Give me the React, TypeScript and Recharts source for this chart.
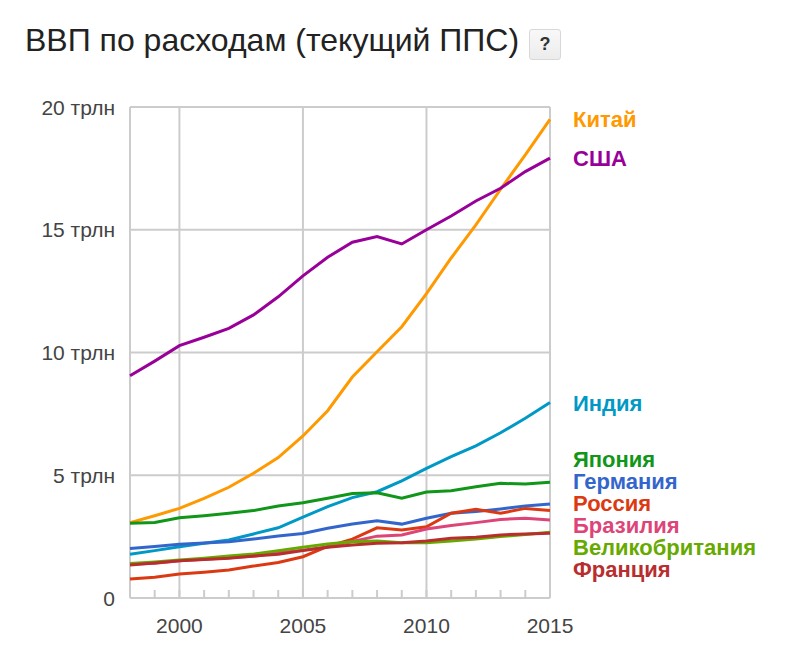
import React from 'react';
import { LineChart, Line, XAxis, YAxis, CartesianGrid, ReferenceLine, LabelList } from 'recharts';

const years = [1998, 1999, 2000, 2001, 2002, 2003, 2004, 2005, 2006, 2007, 2008, 2009, 2010, 2011, 2012, 2013, 2014, 2015];
const gridYears = [1998, 2000, 2005, 2010, 2015];
const yTicks = [0, 5, 10, 15, 20];

const china = [3.07, 3.35, 3.65, 4.06, 4.51, 5.08, 5.72, 6.6, 7.63, 9.0, 10.03, 11.05, 12.4, 13.85, 15.2, 16.65, 18.05, 19.5];
const usa = [9.05, 9.65, 10.28, 10.62, 10.98, 11.53, 12.27, 13.12, 13.88, 14.49, 14.72, 14.42, 15.0, 15.56, 16.17, 16.69, 17.37, 17.92];
const india = [1.78, 1.93, 2.09, 2.23, 2.36, 2.61, 2.86, 3.29, 3.72, 4.09, 4.33, 4.77, 5.28, 5.76, 6.2, 6.73, 7.32, 7.96];
const japan = [3.04, 3.08, 3.27, 3.35, 3.45, 3.56, 3.75, 3.88, 4.06, 4.26, 4.29, 4.06, 4.32, 4.37, 4.53, 4.67, 4.64, 4.71];
const germany = [2.02, 2.1, 2.19, 2.24, 2.29, 2.4, 2.53, 2.63, 2.84, 3.01, 3.15, 3.01, 3.25, 3.45, 3.52, 3.63, 3.75, 3.83];
const russia = [0.77, 0.85, 0.98, 1.05, 1.14, 1.3, 1.45, 1.68, 2.1, 2.4, 2.86, 2.77, 2.9, 3.45, 3.61, 3.45, 3.65, 3.56];
const brazil = [1.38, 1.42, 1.52, 1.58, 1.64, 1.7, 1.84, 1.95, 2.08, 2.3, 2.52, 2.57, 2.81, 2.95, 3.07, 3.2, 3.25, 3.18];
const uk = [1.41, 1.47, 1.55, 1.62, 1.71, 1.79, 1.93, 2.07, 2.2, 2.29, 2.32, 2.25, 2.25, 2.32, 2.4, 2.5, 2.59, 2.68];
const france = [1.34, 1.43, 1.52, 1.57, 1.62, 1.71, 1.78, 1.93, 2.07, 2.16, 2.23, 2.25, 2.32, 2.43, 2.47, 2.57, 2.61, 2.64];

const series = [
  { key: 'china', name: 'Китай', values: china, color: '#ff9900' },
  { key: 'usa', name: 'США', values: usa, color: '#990099' },
  { key: 'india', name: 'Индия', values: india, color: '#0099c6' },
  { key: 'japan', name: 'Япония', values: japan, color: '#109618' },
  { key: 'germany', name: 'Германия', values: germany, color: '#3366cc' },
  { key: 'russia', name: 'Россия', values: russia, color: '#dc3912' },
  { key: 'brazil', name: 'Бразилия', values: brazil, color: '#dd4477' },
  { key: 'uk', name: 'Великобритания', values: uk, color: '#66aa00' },
  { key: 'france', name: 'Франция', values: france, color: '#b82e2e' },
];

const data = years.map((year, i) => {
  const row: Record<string, number> = { year };
  series.forEach((s) => {
    row[s.key] = s.values[i];
  });
  return row;
});

// layout
const CHART_W = 801;
const CHART_H = 648;
const MARGIN = { top: 107, right: 251, bottom: 0, left: 0 };
const Y_AXIS_W = 130;
const X_AXIS_H = 50;
const PLOT_H = CHART_H - MARGIN.top - MARGIN.bottom - X_AXIS_H;
const Y_MAX = 20;
const LABEL_GAP = 22;
const FONT = '"Liberation Sans", Arial, sans-serif';
const GRID = '#cccccc';
const AXIS_FS = 21;

// end-label de-overlap (pixel offsets relative to the series' last point)
const labelOffsets: Record<string, number> = (() => {
  const items = series
    .map((s) => ({ key: s.key, y: (1 - s.values[s.values.length - 1] / Y_MAX) * PLOT_H }))
    .sort((a, b) => a.y - b.y);
  let groups = items.map((it) => ({ members: [it], center: it.y }));
  const place = (g: { members: { y: number }[]; center: number }) =>
    g.members.map((_, i) => g.center - ((g.members.length - 1) * LABEL_GAP) / 2 + i * LABEL_GAP);
  let changed = true;
  while (changed) {
    changed = false;
    for (let i = 1; i < groups.length; i++) {
      const a = place(groups[i - 1]);
      const b = place(groups[i]);
      if (a[a.length - 1] + LABEL_GAP > b[0]) {
        const members = [...groups[i - 1].members, ...groups[i].members];
        const center = members.reduce((s, m) => s + m.y, 0) / members.length;
        groups.splice(i - 1, 2, { members, center });
        changed = true;
        break;
      }
    }
  }
  const out: Record<string, number> = {};
  groups.forEach((g) => {
    const pos = place(g);
    g.members.forEach((m: any, i) => {
      out[m.key] = pos[i] - m.y;
    });
  });
  return out;
})();

const XTick = (props: any) => {
  const { x, y, payload } = props;
  const v = payload.value;
  return (
    <g>
      <line x1={x} x2={x} y1={y - 8} y2={y} stroke={GRID} strokeWidth={2} />
      {v % 5 === 0 && (
        <text x={x} y={y + 35} textAnchor="middle" fill="#444" fontSize={AXIS_FS} fontFamily={FONT}>
          {v}
        </text>
      )}
    </g>
  );
};

const YTick = (props: any) => {
  const { x, y, payload } = props;
  const v = payload.value;
  return (
    <text x={x} y={y + 7.5} textAnchor="end" fill="#444" fontSize={AXIS_FS} fontFamily={FONT}>
      {v === 0 ? '0' : `${v} трлн`}
    </text>
  );
};

const makeEndLabel = (s: { key: string; name: string; color: string }) => (props: any) => {
  const { x, y, index } = props;
  if (index !== years.length - 1) return null;
  return (
    <text
      x={x + 23}
      y={y + labelOffsets[s.key] + 8}
      fill={s.color}
      fontSize={22}
      fontWeight="bold"
      fontFamily={FONT}
    >
      {s.name}
    </text>
  );
};

export default function App() {
  return (
    <div style={{ position: 'absolute', left: 0, top: 0, width: CHART_W, height: CHART_H, background: '#fff' }}>
      <div
        style={{
          position: 'absolute',
          left: 25,
          top: 25,
          fontFamily: FONT,
          fontSize: 32,
          lineHeight: '30px',
          color: '#222',
          whiteSpace: 'nowrap',
        }}
      >
        ВВП по расходам (текущий ППС)
      </div>
      <div
        style={{
          position: 'absolute',
          left: 529,
          top: 29,
          width: 32,
          height: 31,
          boxSizing: 'border-box',
          border: '1px solid #d8d8d8',
          borderRadius: 3,
          background: 'linear-gradient(#f8f8f8, #ececec)',
          fontFamily: FONT,
          fontWeight: 'bold',
          fontSize: 18,
          lineHeight: '29px',
          textAlign: 'center',
          color: '#333',
        }}
      >
        ?
      </div>
      <div style={{ position: 'absolute', left: 0, top: 0 }}>
        <LineChart width={CHART_W} height={CHART_H} data={data} margin={MARGIN}>
          <CartesianGrid vertical={false} stroke={GRID} strokeWidth={2} />
          {gridYears.map((gy) => (
            <ReferenceLine key={gy} x={gy} stroke={GRID} strokeWidth={2} />
          ))}
          <XAxis
            dataKey="year"
            type="number"
            domain={[1998, 2015]}
            ticks={years}
            interval={0}
            height={X_AXIS_H}
            axisLine={false}
            tickLine={false}
            tickSize={0}
            tickMargin={0}
            tick={<XTick />}
          />
          <YAxis
            type="number"
            domain={[0, Y_MAX]}
            ticks={yTicks}
            interval={0}
            width={Y_AXIS_W}
            axisLine={false}
            tickLine={false}
            tickSize={0}
            tickMargin={15}
            tick={<YTick />}
          />
          {series.map((s) => (
            <Line
              key={s.key}
              type="linear"
              dataKey={s.key}
              name={s.name}
              stroke={s.color}
              strokeWidth={3}
              dot={false}
              activeDot={false}
              isAnimationActive={false}
            >
              <LabelList dataKey={s.key} content={makeEndLabel(s)} />
            </Line>
          ))}
        </LineChart>
      </div>
    </div>
  );
}
